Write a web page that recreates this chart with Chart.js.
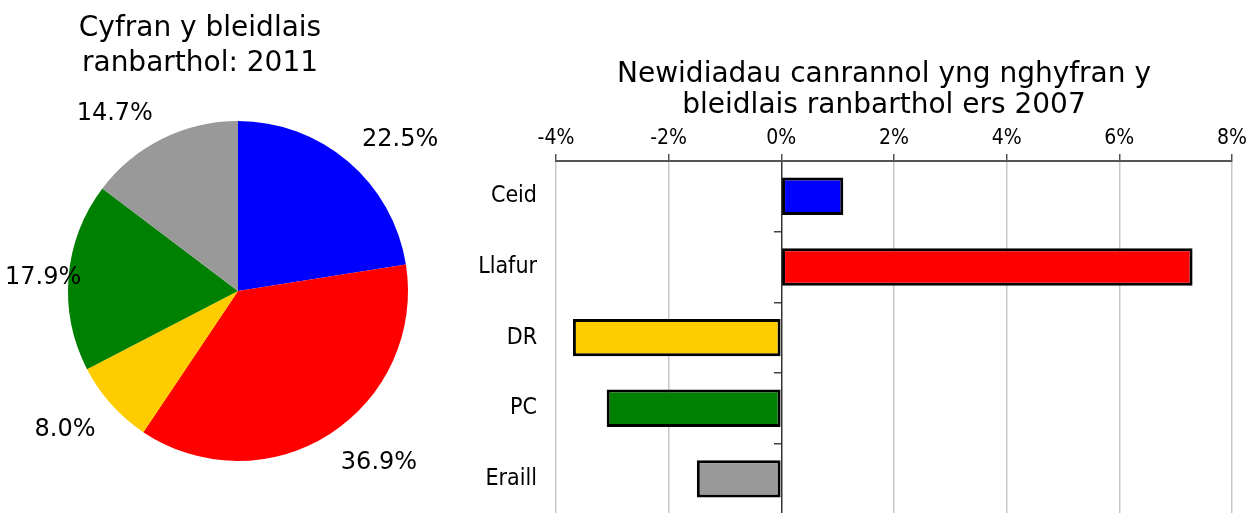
<!DOCTYPE html>
<html>
<head>
<meta charset="utf-8">
<script src="https://cdn.jsdelivr.net/npm/chart.js@4/dist/chart.umd.min.js"></script>
<style>
  html, body { margin: 0; padding: 0; background: #fff; overflow: hidden; width: 1258px; height: 513px; }
  #pieChart { position: absolute; left: 0; top: 0; }
  #barChart { position: absolute; left: 460px; top: 0; }
</style>
</head>
<body>
<canvas id="pieChart" width="460" height="513"></canvas>
<canvas id="barChart" width="798" height="547"></canvas>
<script>
const parties = ["Ceid", "Llafur", "DR", "PC", "Eraill"];
const partyColours = ["#0000FF", "#FF0000", "#FFCC00", "#008000", "#999999"];
const voteShare2011 = [22.5, 36.9, 8.0, 17.9, 14.7];
const changeSince2007 = [1.1, 7.3, -3.7, -3.1, -1.5];
const changeTicks = [-4, -2, 0, 2, 4, 6, 8];
const pieTitle = ["Cyfran y bleidlais", "ranbarthol: 2011"];
const barTitle = ["Newidiadau canrannol yng nghyfran y", "bleidlais ranbarthol ers 2007"];

const FONT = '"DejaVu Sans", "Noto Sans", sans-serif';
const FONT_NARROW = '"DejaVu Sans Condensed", "DejaVu Sans", sans-serif';

// two-line titles, drawn by hand so they can sit off the plot centre
function titlePlugin(lines, cx, baselines) {
  return {
    id: "handTitle",
    afterDraw(chart) {
      const { ctx } = chart;
      ctx.save();
      ctx.font = "28px " + FONT;
      ctx.fillStyle = "#000";
      ctx.textAlign = "center";
      ctx.textBaseline = "alphabetic";
      lines.forEach((t, i) => ctx.fillText(t, cx, baselines[i]));
      ctx.restore();
    },
  };
}

// percentage labels outside each slice
const pieLabelPlugin = {
  id: "pieLabels",
  afterDatasetsDraw(chart) {
    const { ctx } = chart;
    const meta = chart.getDatasetMeta(0);
    const size = 24;
    const cap = size * 0.729;
    ctx.save();
    ctx.font = size + "px " + FONT;
    ctx.fillStyle = "#000";
    ctx.textAlign = "left";
    ctx.textBaseline = "alphabetic";
    meta.data.forEach((arc, i) => {
      const mid = (arc.startAngle + arc.endAngle) / 2;
      const r = arc.outerRadius + 21;
      const cos = Math.cos(mid), sin = Math.sin(mid);
      const text = voteShare2011[i].toFixed(1) + "%";
      const w = ctx.measureText(text).width;
      let x = arc.x + r * cos;
      let y = arc.y + r * sin;
      if (cos < -0.3) x -= w;
      else if (cos <= 0.3) x -= w / 2;
      if (sin > 0.3) y += cap;
      else if (sin >= -0.3) y += cap / 2;
      x = Math.max(5, Math.min(chart.width - 5 - w, x));
      ctx.fillText(text, x, y);
    });
    ctx.restore();
  },
};

new Chart(document.getElementById("pieChart"), {
  type: "pie",
  data: {
    labels: parties,
    datasets: [{ data: voteShare2011, backgroundColor: partyColours, borderWidth: 0 }],
  },
  options: {
    responsive: false,
    animation: false,
    layout: { padding: { left: 68, right: 52, top: 121, bottom: 52 } },
    plugins: { legend: { display: false }, tooltip: { enabled: false } },
  },
  plugins: [titlePlugin(pieTitle, 200, [36, 71]), pieLabelPlugin],
});

// canvas is taller than the page: the last category runs off the bottom like the original
new Chart(document.getElementById("barChart"), {
  type: "bar",
  data: {
    labels: parties,
    datasets: [{
      data: changeSince2007,
      backgroundColor: partyColours,
      borderColor: "#000",
      borderWidth: 3,
      borderSkipped: false,
      barPercentage: 0.53,
      categoryPercentage: 1,
      yAxisID: "y",
    }],
  },
  options: {
    indexAxis: "y",
    responsive: false,
    animation: false,
    layout: { padding: { left: 0, right: 26, top: 124, bottom: 5 } },
    plugins: { legend: { display: false }, tooltip: { enabled: false } },
    scales: {
      x: {
        type: "linear",
        position: "top",
        min: -4,
        max: 8,
        afterBuildTicks: (scale) => { scale.ticks = changeTicks.map((v) => ({ value: v })); },
        ticks: {
          callback: (v) => v + "%",
          color: "#000",
          font: { family: FONT_NARROW, size: 21 },
          padding: 3,
          maxRotation: 0,
        },
        grid: {
          color: (c) => (c.tick && c.tick.value === 0 ? "#333" : "#c8c8c8"),
          lineWidth: 1.5,
          tickColor: "#555",
          tickLength: 7,
        },
        border: { display: true, color: "#555", width: 2 },
        afterFit: (s) => { s.height = 37; },
      },
      y: {
        type: "category",
        position: "left",
        grid: { display: false, drawTicks: false },
        border: { display: false },
        ticks: { color: "#000", font: { family: FONT_NARROW, size: 23 }, padding: 19 },
        afterFit: (s) => { s.width = 96; },
      },
      // small tick marks on the zero line between categories
      y2: {
        type: "category",
        position: { x: 0 },
        offset: true,
        grid: { offset: true, drawOnChartArea: false, drawTicks: true, tickLength: 7, color: "#444", lineWidth: 1.5 },
        border: { display: false },
        ticks: { display: false },
        afterFit: (s) => { s.width = 0; },
      },
    },
  },
  plugins: [titlePlugin(barTitle, 424, [82, 113])],
});
</script>
</body>
</html>
